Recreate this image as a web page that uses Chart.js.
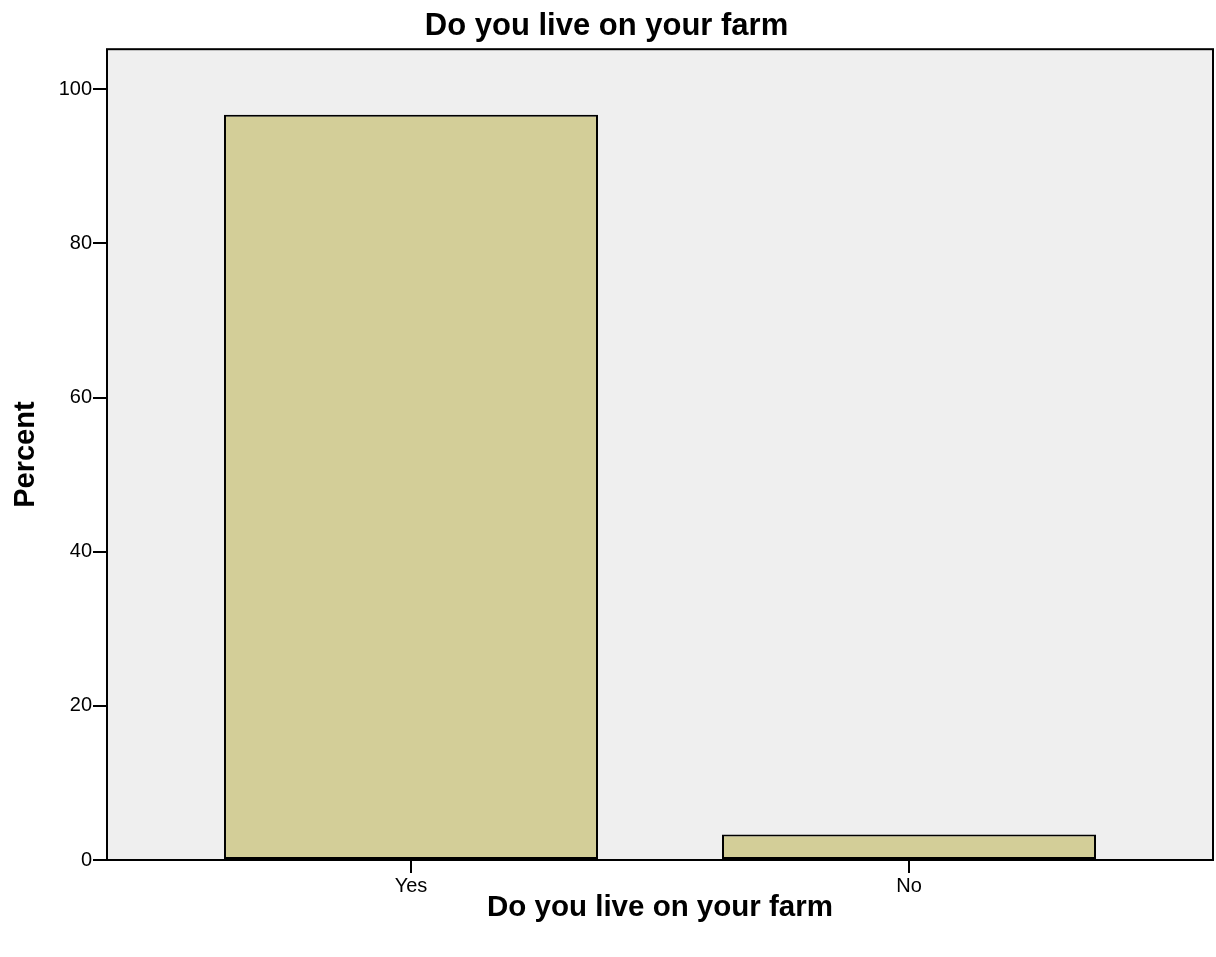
<!DOCTYPE html>
<html>
<head>
<meta charset="utf-8">
<script src="https://cdn.jsdelivr.net/npm/chart.js@4/dist/chart.umd.min.js"></script>
<style>
html,body{margin:0;padding:0;background:#fff;}
#wrap{width:1216px;height:957px;position:relative;}
</style>
</head>
<body>
<div id="wrap"><canvas id="c" width="1216" height="957"></canvas></div>
<script>
const categories = ["Yes", "No"];
const percentValues = [96.7, 3.3];
const yTickValues = [0, 20, 40, 60, 80, 100];

const FONT = "'Liberation Sans', Arial, Helvetica, sans-serif";

const plotBg = {
  id: 'plotBg',
  beforeDatasetsDraw(chart) {
    const {ctx, chartArea: a} = chart;
    ctx.save();
    ctx.fillStyle = '#EFEFEF';
    ctx.fillRect(a.left, a.top, a.right - a.left, a.bottom - a.top);
    ctx.restore();
  },
  afterDatasetsDraw(chart) {
    const {ctx, chartArea: a} = chart;
    ctx.save();
    ctx.strokeStyle = '#000';
    ctx.lineWidth = 2;
    ctx.strokeRect(a.left, a.top, a.right - a.left, a.bottom - a.top);
    ctx.restore();
  }
};

new Chart(document.getElementById('c'), {
  type: 'bar',
  data: {
    datasets: [{
      data: categories.map((c, i) => ({x: i, y: percentValues[i]})),
      backgroundColor: '#D3CE98',
      borderColor: '#000',
      borderWidth: 2,
      borderSkipped: false,
      categoryPercentage: 1,
      barPercentage: 0.751
    }]
  },
  options: {
    responsive: false,
    animation: false,
    devicePixelRatio: 1,
    layout: {padding: {left: 0, right: 3, top: 0, bottom: 0}},
    plugins: {
      legend: {display: false},
      tooltip: {enabled: false},
      title: {
        display: true,
        text: 'Do you live on your farm',
        color: '#000',
        font: {family: FONT, size: 31, weight: 'bold'},
        padding: {top: 8, bottom: 4}
      }
    },
    scales: {
      x: {
        type: 'linear',
        offset: false,
        min: -0.6104,
        max: 1.6104,
        afterBuildTicks: s => { s.ticks = categories.map((c, i) => ({value: i})); },
        afterFit: s => { s.height = 97; },
        ticks: {
          color: '#000',
          font: {family: FONT, size: 20},
          padding: 1,
          maxRotation: 0,
          callback: v => categories[v]
        },
        grid: {offset: false, drawOnChartArea: false, drawTicks: true, tickLength: 13, color: '#000', lineWidth: 2},
        border: {display: false},
        title: {
          display: true,
          text: 'Do you live on your farm',
          color: '#000',
          font: {family: FONT, size: 29.5, weight: 'bold'},
          padding: {top: 0, bottom: 31}
        }
      },
      y: {
        min: 0,
        max: 105.2,
        afterBuildTicks: s => { s.ticks = yTickValues.map(v => ({value: v})); },
        afterFit: s => { s.width = 107; },
        ticks: {
          color: '#000',
          font: {family: FONT, size: 20},
          padding: 1
        },
        grid: {drawOnChartArea: false, drawTicks: true, tickLength: 14, color: '#000', lineWidth: 2},
        border: {display: false},
        title: {
          display: true,
          text: 'Percent',
          color: '#000',
          font: {family: FONT, size: 29, weight: 'bold'},
          padding: {top: 9, bottom: 0}
        }
      }
    }
  },
  plugins: [plotBg]
});
</script>
</body>
</html>
